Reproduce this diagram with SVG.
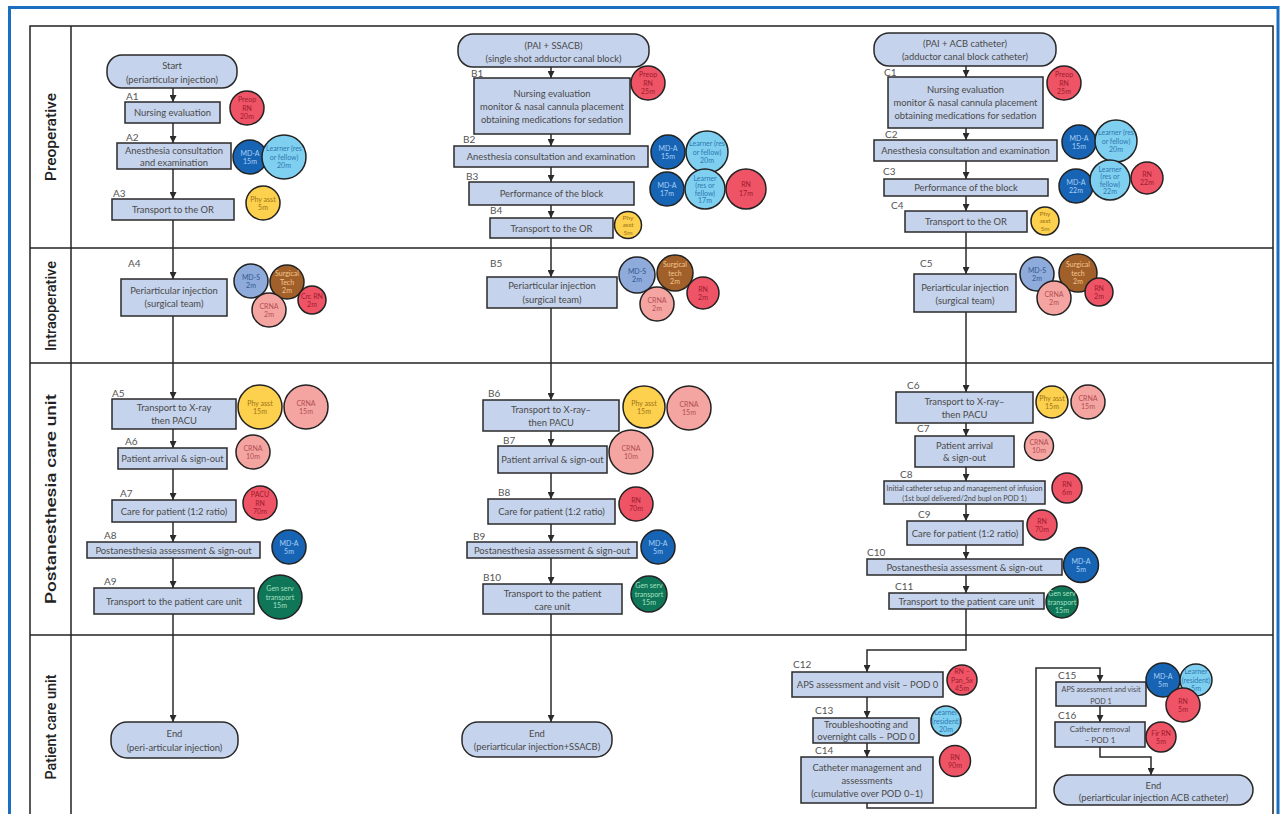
<svg xmlns="http://www.w3.org/2000/svg" width="1281" height="814" viewBox="0 0 1281 814">
<defs>
<marker id="ah" viewBox="0 0 8 8" refX="8" refY="4" markerWidth="7" markerHeight="7" markerUnits="userSpaceOnUse" orient="auto"><path d="M0,0 L8,4 L0,8 z" fill="#2a2a2a"/></marker>
<style>
.bx{fill:#c5d3ec;stroke:#2a2a2a;stroke-width:1.5}
.t{font-family:Lato,"Liberation Sans",sans-serif;font-size:9.4px;fill:#4a4a4a;text-anchor:middle}
.sm{font-size:7.2px}
.lb{font-family:Lato,"Liberation Sans",sans-serif;font-size:10px;fill:#555}
.rl{font-family:Roboto,"Liberation Sans",sans-serif;font-size:15px;font-weight:500;fill:#222;text-anchor:middle}
.r circle{stroke:#222;stroke-width:1.5}
.r text{font-family:Lato,"Liberation Sans",sans-serif;font-size:7px;text-anchor:middle}
.red circle{fill:#ef5466}.red text{fill:#9e1b2e}
.dbl circle{fill:#1764b4}.dbl text{fill:#a9d0f5}
.lbl circle{fill:#7fd0f0}.lbl text{fill:#2f78b0}
.yel circle{fill:#fdd04d}.yel text{fill:#9c7418}
.pnk circle{fill:#f5a5a1}.pnk text{fill:#b24e55}
.mds circle{fill:#8eabdb}.mds text{fill:#37588f}
.brn circle{fill:#a1602a}.brn text{fill:#f3c58e}
.grn circle{fill:#0f7658}.grn text{fill:#a5e0c0}
.ln{fill:none;stroke:#2a2a2a;stroke-width:1.5}
.ar{marker-end:url(#ah)}
</style>
</defs>
<rect width="1281" height="814" fill="#fff"/>
<g id="frame">
<path d="M9.5,820 V7.5 H1278 V820" fill="none" stroke="#1a6fc0" stroke-width="3"/>
<rect x="30" y="26" width="1243" height="800" fill="none" stroke="#222" stroke-width="1.5"/>
<line x1="71" y1="26" x2="71" y2="820" stroke="#222" stroke-width="1.5"/>
<line x1="30" y1="248" x2="1273" y2="248" stroke="#222" stroke-width="1.5"/>
<line x1="30" y1="363" x2="1273" y2="363" stroke="#222" stroke-width="1.5"/>
<line x1="30" y1="635" x2="1273" y2="635" stroke="#222" stroke-width="1.5"/>
<text class="rl" transform="translate(56,137) rotate(-90)" textLength="88" lengthAdjust="spacingAndGlyphs">Preoperative</text>
<text class="rl" transform="translate(56,306) rotate(-90)" textLength="90" lengthAdjust="spacingAndGlyphs">Intraoperative</text>
<text class="rl" transform="translate(56,499) rotate(-90)" textLength="210" lengthAdjust="spacingAndGlyphs">Postanesthesia care unit</text>
<text class="rl" transform="translate(56,727) rotate(-90)" textLength="105" lengthAdjust="spacingAndGlyphs">Patient care unit</text>
</g>
<g id="connectors">
<path class="ln ar" d="M173,88 V102"/><path class="ln ar" d="M173,123 V143"/><path class="ln ar" d="M173,169 V199"/><path class="ln ar" d="M173,220 V279"/><path class="ln ar" d="M173,316 V399"/><path class="ln ar" d="M173,429 V448"/><path class="ln ar" d="M173,469 V500"/><path class="ln ar" d="M173,522 V542"/><path class="ln ar" d="M173,558 V588"/><path class="ln ar" d="M173,614 V722"/>
<path class="ln ar" d="M551,67 V78"/><path class="ln ar" d="M551,134 V146"/><path class="ln ar" d="M551,167 V182"/><path class="ln ar" d="M551,205 V218"/><path class="ln ar" d="M551,238 V277"/><path class="ln ar" d="M551,308 V400"/><path class="ln ar" d="M551,431 V446"/><path class="ln ar" d="M551,473 V499"/><path class="ln ar" d="M551,524 V542"/><path class="ln ar" d="M551,558 V584"/><path class="ln ar" d="M551,614 V722"/>
<path class="ln ar" d="M966,66 V77"/><path class="ln ar" d="M966,128 V140"/><path class="ln ar" d="M966,161 V179"/><path class="ln ar" d="M966,196 V211"/><path class="ln ar" d="M966,232 V274"/><path class="ln ar" d="M966,312 V392"/><path class="ln ar" d="M966,423 V436"/><path class="ln ar" d="M966,467 V481"/><path class="ln ar" d="M966,504 V521"/><path class="ln ar" d="M966,545 V559"/><path class="ln ar" d="M966,575 V593"/>
<path class="ln ar" d="M966,609 V650 H867 V672"/>
<path class="ln ar" d="M867,697 V718"/><path class="ln ar" d="M867,743 V757"/>
<path class="ln ar" d="M867,803 V808 H1036 V668 H1100 V682"/>
<path class="ln ar" d="M1100,706 V722"/>
<path class="ln ar" d="M1100,747 V757 H1151 V775"/>
</g>
<g id="A0"><rect class="bx" x="107" y="55" width="130" height="33" rx="15"/><text class="t" x="172" y="69">Start</text><text class="t" x="172" y="83">(periarticular injection)</text></g>
<g id="A1"><text class="lb" x="126" y="100">A1</text><rect class="bx" x="125" y="102" width="95" height="21"/><text class="t" x="172.5" y="116">Nursing evaluation</text>
<g class="r red"><circle cx="247" cy="108" r="17"/><text x="247" y="102">Preop</text><text x="247" y="110.5">RN</text><text x="247" y="119">20m</text></g></g>
<g id="A2"><text class="lb" x="126" y="141">A2</text><rect class="bx" x="117" y="143" width="114" height="26"/><text class="t" x="174" y="153.5">Anesthesia consultation</text><text class="t" x="174" y="165.5">and examination</text>
<g class="r dbl"><circle cx="250" cy="157" r="17"/><text x="250" y="155.5">MD-A</text><text x="250" y="164">15m</text></g>
<g class="r lbl"><circle cx="284" cy="157" r="22"/><text x="284" y="151">Learner (res</text><text x="284" y="159.5">or fellow)</text><text x="284" y="168">20m</text></g></g>
<g id="A3"><text class="lb" x="113" y="197">A3</text><rect class="bx" x="112" y="199" width="122" height="21"/><text class="t" x="173" y="213">Transport to the OR</text>
<g class="r yel"><circle cx="263" cy="203" r="17"/><text x="263" y="201.5">Phy asst</text><text x="263" y="210">5m</text></g></g>
<g id="A4"><text class="lb" x="128" y="267">A4</text><rect class="bx" x="121" y="279" width="106" height="37"/><text class="t" x="174" y="294">Periarticular injection</text><text class="t" x="174" y="307">(surgical team)</text>
<g class="r mds"><circle cx="251" cy="281" r="17"/><text x="251" y="279.5">MD-S</text><text x="251" y="288">2m</text></g>
<g class="r brn"><circle cx="287" cy="282" r="17"/><text x="287" y="276">Surgical</text><text x="287" y="284.5">Tech</text><text x="287" y="293">2m</text></g>
<g class="r red"><circle cx="312" cy="300" r="14"/><text x="312" y="298.5">Crc RN</text><text x="312" y="307">2m</text></g>
<g class="r pnk"><circle cx="269" cy="310" r="17"/><text x="269" y="308.5">CRNA</text><text x="269" y="317">2m</text></g></g>
<g id="A5"><text class="lb" x="112" y="397">A5</text><rect class="bx" x="112" y="399" width="124" height="30"/><text class="t" x="174" y="411">Transport to X-ray</text><text class="t" x="174" y="424">then PACU</text>
<g class="r yel"><circle cx="260" cy="407" r="22"/><text x="260" y="405.5">Phy asst</text><text x="260" y="414">15m</text></g>
<g class="r pnk"><circle cx="306" cy="407" r="22"/><text x="306" y="405.5">CRNA</text><text x="306" y="414">15m</text></g></g>
<g id="A6"><text class="lb" x="125" y="445">A6</text><rect class="bx" x="118" y="448" width="109" height="21"/><text class="t" x="172.5" y="462">Patient arrival &amp; sign-out</text>
<g class="r pnk"><circle cx="253" cy="452" r="17"/><text x="253" y="450.5">CRNA</text><text x="253" y="459">10m</text></g></g>
<g id="A7"><text class="lb" x="120" y="497">A7</text><rect class="bx" x="112" y="500" width="124" height="22"/><text class="t" x="174" y="515">Care for patient (1:2 ratio)</text>
<g class="r red"><circle cx="260" cy="503" r="17"/><text x="260" y="497">PACU</text><text x="260" y="505.5">RN</text><text x="260" y="514">70m</text></g></g>
<g id="A8"><text class="lb" x="104" y="539">A8</text><rect class="bx" x="87" y="542" width="173" height="16"/><text class="t" x="173.5" y="554">Postanesthesia assessment &amp; sign-out</text>
<g class="r dbl"><circle cx="289" cy="547" r="17"/><text x="289" y="545.5">MD-A</text><text x="289" y="554">5m</text></g></g>
<g id="A9"><text class="lb" x="104" y="585">A9</text><rect class="bx" x="94" y="588" width="160" height="26"/><text class="t" x="174" y="605">Transport to the patient care unit</text>
<g class="r grn"><circle cx="280" cy="597" r="22"/><text x="280" y="591">Gen serv</text><text x="280" y="599.5">transport</text><text x="280" y="608">15m</text></g></g>
<g id="AEnd"><rect class="bx" x="111" y="722" width="127" height="36" rx="16"/><text class="t" x="174.5" y="737">End</text><text class="t" x="174.5" y="751">(peri-articular injection)</text></g>

<g id="B0"><rect class="bx" x="458" y="34" width="191" height="33" rx="15"/><text class="t" x="553.5" y="49">(PAI + SSACB)</text><text class="t" x="553.5" y="62">(single shot adductor canal block)</text></g>
<g id="B1"><text class="lb" x="471" y="77">B1</text><rect class="bx" x="474" y="78" width="156" height="56"/><text class="t" x="552" y="97">Nursing evaluation</text><text class="t" x="552" y="110">monitor &amp; nasal cannula placement</text><text class="t" x="552" y="123">obtaining medications for sedation</text>
<g class="r red"><circle cx="648" cy="83" r="17"/><text x="648" y="77">Preop</text><text x="648" y="85.5">RN</text><text x="648" y="94">25m</text></g></g>
<g id="B2"><text class="lb" x="463" y="143">B2</text><rect class="bx" x="454" y="146" width="194" height="21"/><text class="t" x="551" y="160">Anesthesia consultation and examination</text>
<g class="r dbl"><circle cx="668" cy="152" r="17"/><text x="668" y="150.5">MD-A</text><text x="668" y="159">15m</text></g>
<g class="r lbl"><circle cx="707" cy="152" r="21"/><text x="707" y="146">Learner (res</text><text x="707" y="154.5">or fellow)</text><text x="707" y="163">20m</text></g></g>
<g id="B3"><text class="lb" x="466" y="180">B3</text><rect class="bx" x="469" y="182" width="165" height="23"/><text class="t" x="551.5" y="197">Performance of the block</text>
<g class="r dbl"><circle cx="667" cy="189" r="17"/><text x="667" y="187.5">MD-A</text><text x="667" y="196">17m</text></g>
<g class="r lbl"><circle cx="705" cy="189" r="20"/><text x="705" y="180.5">Learner</text><text x="705" y="188">(res or</text><text x="705" y="195.5">fellow)</text><text x="705" y="203">17m</text></g>
<g class="r red"><circle cx="746" cy="189" r="20"/><text x="746" y="187">RN</text><text x="746" y="195.5">17m</text></g></g>
<g id="B4"><text class="lb" x="490" y="214">B4</text><rect class="bx" x="490" y="218" width="123" height="20"/><text class="t" x="551.5" y="232">Transport to the OR</text>
<g class="r yel"><circle cx="628" cy="225" r="13.5"/><text x="628" y="219.5" style="font-size:6.5px">Phy</text><text x="628" y="227" style="font-size:6.5px">asst</text><text x="628" y="234.5" style="font-size:6.5px">5m</text></g></g>
<g id="B5"><text class="lb" x="490" y="267">B5</text><rect class="bx" x="487" y="277" width="130" height="31"/><text class="t" x="552" y="289">Periarticular injection</text><text class="t" x="552" y="303">(surgical team)</text>
<g class="r mds"><circle cx="637" cy="275" r="18"/><text x="637" y="273.5">MD-S</text><text x="637" y="282">2m</text></g>
<g class="r brn"><circle cx="675" cy="273" r="18"/><text x="675" y="267">Surgical</text><text x="675" y="275.5">tech</text><text x="675" y="284">2m</text></g>
<g class="r red"><circle cx="703" cy="293" r="16"/><text x="703" y="291.5">RN</text><text x="703" y="300">2m</text></g>
<g class="r pnk"><circle cx="657" cy="304" r="17"/><text x="657" y="302.5">CRNA</text><text x="657" y="311">2m</text></g></g>
<g id="B6"><text class="lb" x="488" y="397">B6</text><rect class="bx" x="483" y="400" width="136" height="31"/><text class="t" x="551" y="413">Transport to X-ray–</text><text class="t" x="551" y="426">then PACU</text>
<g class="r yel"><circle cx="644" cy="407" r="21"/><text x="644" y="405.5">Phy asst</text><text x="644" y="414">15m</text></g>
<g class="r pnk"><circle cx="689" cy="408" r="22"/><text x="689" y="406.5">CRNA</text><text x="689" y="415">15m</text></g></g>
<g id="B7"><text class="lb" x="503" y="444">B7</text><rect class="bx" x="498" y="446" width="109" height="27"/><text class="t" x="552.5" y="463">Patient arrival &amp; sign-out</text>
<g class="r pnk"><circle cx="631" cy="452" r="22"/><text x="631" y="450.5">CRNA</text><text x="631" y="459">10m</text></g></g>
<g id="B8"><text class="lb" x="498" y="496">B8</text><rect class="bx" x="488" y="499" width="127" height="25"/><text class="t" x="551.5" y="515">Care for patient (1:2 ratio)</text>
<g class="r red"><circle cx="636" cy="504" r="17"/><text x="636" y="502.5">RN</text><text x="636" y="511">70m</text></g></g>
<g id="B9"><text class="lb" x="473" y="540">B9</text><rect class="bx" x="467" y="542" width="170" height="16"/><text class="t" x="552" y="554">Postanesthesia assessment &amp; sign-out</text>
<g class="r dbl"><circle cx="658" cy="547" r="17"/><text x="658" y="545.5">MD-A</text><text x="658" y="554">5m</text></g></g>
<g id="B10"><text class="lb" x="483" y="581">B10</text><rect class="bx" x="483" y="584" width="139" height="30"/><text class="t" x="552.5" y="597">Transport to the patient</text><text class="t" x="552.5" y="610">care unit</text>
<g class="r grn"><circle cx="649" cy="594" r="18"/><text x="649" y="588">Gen serv</text><text x="649" y="596.5">transport</text><text x="649" y="605">15m</text></g></g>
<g id="BEnd"><rect class="bx" x="462" y="722" width="150" height="35" rx="16"/><text class="t" x="537" y="737">End</text><text class="t" x="537" y="750">(periarticular injection+SSACB)</text></g>

<g id="C0"><rect class="bx" x="874" y="33" width="182" height="33" rx="15"/><text class="t" x="965" y="47">(PAI + ACB catheter)</text><text class="t" x="965" y="60">(adductor canal block catheter)</text></g>
<g id="C1"><text class="lb" x="884" y="76">C1</text><rect class="bx" x="888" y="77" width="155" height="51"/><text class="t" x="965.5" y="93">Nursing evaluation</text><text class="t" x="965.5" y="106">monitor &amp; nasal cannula placement</text><text class="t" x="965.5" y="119">obtaining medications for sedation</text>
<g class="r red"><circle cx="1064" cy="83" r="17"/><text x="1064" y="77">Preop</text><text x="1064" y="85.5">RN</text><text x="1064" y="94">25m</text></g></g>
<g id="C2"><text class="lb" x="885" y="138">C2</text><rect class="bx" x="874" y="140" width="183" height="21"/><text class="t" x="965.5" y="154">Anesthesia consultation and examination</text>
<g class="r dbl"><circle cx="1079" cy="142" r="17"/><text x="1079" y="140.5">MD-A</text><text x="1079" y="149">15m</text></g>
<g class="r lbl"><circle cx="1116" cy="141" r="21"/><text x="1116" y="135">Learner (res</text><text x="1116" y="143.5">or fellow)</text><text x="1116" y="152">20m</text></g></g>
<g id="C3"><text class="lb" x="883" y="175">C3</text><rect class="bx" x="884" y="179" width="164" height="17"/><text class="t" x="966" y="191">Performance of the block</text>
<g class="r dbl"><circle cx="1076" cy="186" r="17"/><text x="1076" y="184.5">MD-A</text><text x="1076" y="193">22m</text></g>
<g class="r lbl"><circle cx="1110" cy="180" r="20"/><text x="1110" y="171.5">Learner</text><text x="1110" y="179">(res or</text><text x="1110" y="186.5">fellow)</text><text x="1110" y="194">22m</text></g>
<g class="r red"><circle cx="1147" cy="178" r="16"/><text x="1147" y="176.5">RN</text><text x="1147" y="185">22m</text></g></g>
<g id="C4"><text class="lb" x="891" y="209">C4</text><rect class="bx" x="905" y="211" width="122" height="21"/><text class="t" x="966" y="225">Transport to the OR</text>
<g class="r yel"><circle cx="1045" cy="221" r="14"/><text x="1045" y="215.5" style="font-size:6.5px">Phy</text><text x="1045" y="223" style="font-size:6.5px">asst</text><text x="1045" y="230.5" style="font-size:6.5px">5m</text></g></g>
<g id="C5"><text class="lb" x="920" y="267">C5</text><rect class="bx" x="914" y="274" width="102" height="38"/><text class="t" x="965" y="291">Periarticular injection</text><text class="t" x="965" y="304">(surgical team)</text>
<g class="r mds"><circle cx="1037" cy="274" r="17"/><text x="1037" y="272.5">MD-S</text><text x="1037" y="281">2m</text></g>
<g class="r brn"><circle cx="1078" cy="273" r="19"/><text x="1078" y="267">Surgical</text><text x="1078" y="275.5">tech</text><text x="1078" y="284">2m</text></g>
<g class="r pnk"><circle cx="1054" cy="298" r="17"/><text x="1054" y="296.5">CRNA</text><text x="1054" y="305">2m</text></g>
<g class="r red"><circle cx="1099" cy="292" r="14"/><text x="1099" y="290.5">RN</text><text x="1099" y="299">2m</text></g></g>
<g id="C6"><text class="lb" x="907" y="389">C6</text><rect class="bx" x="896" y="392" width="137" height="31"/><text class="t" x="964.5" y="405">Transport to X-ray–</text><text class="t" x="964.5" y="418">then PACU</text>
<g class="r yel"><circle cx="1052" cy="402" r="16"/><text x="1052" y="400.5">Phy asst</text><text x="1052" y="409">15m</text></g>
<g class="r pnk"><circle cx="1088" cy="402" r="17"/><text x="1088" y="400.5">CRNA</text><text x="1088" y="409">15m</text></g></g>
<g id="C7"><text class="lb" x="917" y="432">C7</text><rect class="bx" x="915" y="436" width="99" height="31"/><text class="t" x="964.5" y="449">Patient arrival</text><text class="t" x="964.5" y="461">&amp; sign-out</text>
<g class="r pnk"><circle cx="1039" cy="446" r="14.5"/><text x="1039" y="444.5">CRNA</text><text x="1039" y="453">10m</text></g></g>
<g id="C8"><text class="lb" x="900" y="478">C8</text><rect class="bx" x="884" y="481" width="161" height="23"/><text class="t sm" x="964.5" y="491">Initial catheter setup and management of infusion</text><text class="t sm" x="964.5" y="501">(1st bupl delivered/2nd bupl on POD 1)</text>
<g class="r red"><circle cx="1067" cy="488" r="15"/><text x="1067" y="486.5">RN</text><text x="1067" y="495">6m</text></g></g>
<g id="C9"><text class="lb" x="918" y="518">C9</text><rect class="bx" x="907" y="521" width="116" height="24"/><text class="t" x="965" y="537">Care for patient (1:2 ratio)</text>
<g class="r red"><circle cx="1042" cy="525" r="15"/><text x="1042" y="523.5">RN</text><text x="1042" y="532">70m</text></g></g>
<g id="C10"><text class="lb" x="867" y="556">C10</text><rect class="bx" x="867" y="559" width="195" height="16"/><text class="t" x="964.5" y="571">Postanesthesia assessment &amp; sign-out</text>
<g class="r dbl"><circle cx="1081" cy="565" r="17.5"/><text x="1081" y="563.5">MD-A</text><text x="1081" y="572">5m</text></g></g>
<g id="C11"><text class="lb" x="895" y="590">C11</text><rect class="bx" x="889" y="593" width="155" height="16"/><text class="t" x="966.5" y="605">Transport to the patient care unit</text>
<g class="r grn"><circle cx="1062" cy="602" r="16"/><text x="1062" y="596">Gen serv</text><text x="1062" y="604.5">transport</text><text x="1062" y="613">15m</text></g></g>
<g id="C12"><text class="lb" x="793" y="668">C12</text><rect class="bx" x="792" y="672" width="151" height="25"/><text class="t" x="867.5" y="688">APS assessment and visit – POD 0</text>
<g class="r red"><circle cx="962" cy="680" r="15"/><text x="962" y="674">RN –</text><text x="962" y="682.5">Pan_Sx</text><text x="962" y="691">45m</text></g></g>
<g id="C13"><text class="lb" x="815" y="714">C13</text><rect class="bx" x="813" y="718" width="106" height="25"/><text class="t" x="866" y="728">Troubleshooting and</text><text class="t" x="866" y="740">overnight calls – POD 0</text>
<g class="r lbl"><circle cx="946" cy="721" r="15"/><text x="946" y="715">Learner</text><text x="946" y="723.5">(resident)</text><text x="946" y="732">20m</text></g></g>
<g id="C14"><text class="lb" x="815" y="754">C14</text><rect class="bx" x="801" y="757" width="132" height="46"/><text class="t" x="867" y="771">Catheter management and</text><text class="t" x="867" y="784">assessments</text><text class="t" x="867" y="797">(cumulative over POD 0–1)</text>
<g class="r red"><circle cx="955" cy="761" r="15.5"/><text x="955" y="759.5">RN</text><text x="955" y="768">90m</text></g></g>
<g id="C15"><text class="lb" x="1058" y="679">C15</text><rect class="bx" x="1056" y="682" width="90" height="24"/><text class="t sm" x="1101" y="692">APS assessment and visit</text><text class="t sm" x="1101" y="704">POD 1</text>
<g class="r dbl"><circle cx="1163" cy="680" r="17"/><text x="1163" y="678.5">MD-A</text><text x="1163" y="687">5m</text></g>
<g class="r lbl"><circle cx="1196" cy="680" r="16"/><text x="1196" y="674">Learner</text><text x="1196" y="682.5">(resident)</text><text x="1196" y="691">5m</text></g>
<g class="r red"><circle cx="1183" cy="705" r="17"/><text x="1183" y="703.5">RN</text><text x="1183" y="712">5m</text></g></g>
<g id="C16"><text class="lb" x="1058" y="719">C16</text><rect class="bx" x="1055" y="722" width="90" height="25"/><text class="t" x="1100" y="732" style="font-size:8px">Catheter removal</text><text class="t" x="1100" y="743" style="font-size:8px">– POD 1</text>
<g class="r red"><circle cx="1161" cy="737" r="15"/><text x="1161" y="735.5">Fir RN</text><text x="1161" y="744">5m</text></g></g>
<g id="CEnd"><rect class="bx" x="1054" y="775" width="199" height="30" rx="15"/><text class="t" x="1153.5" y="789">End</text><text class="t" x="1153.5" y="801">(periarticular injection ACB catheter)</text></g>
</svg>
